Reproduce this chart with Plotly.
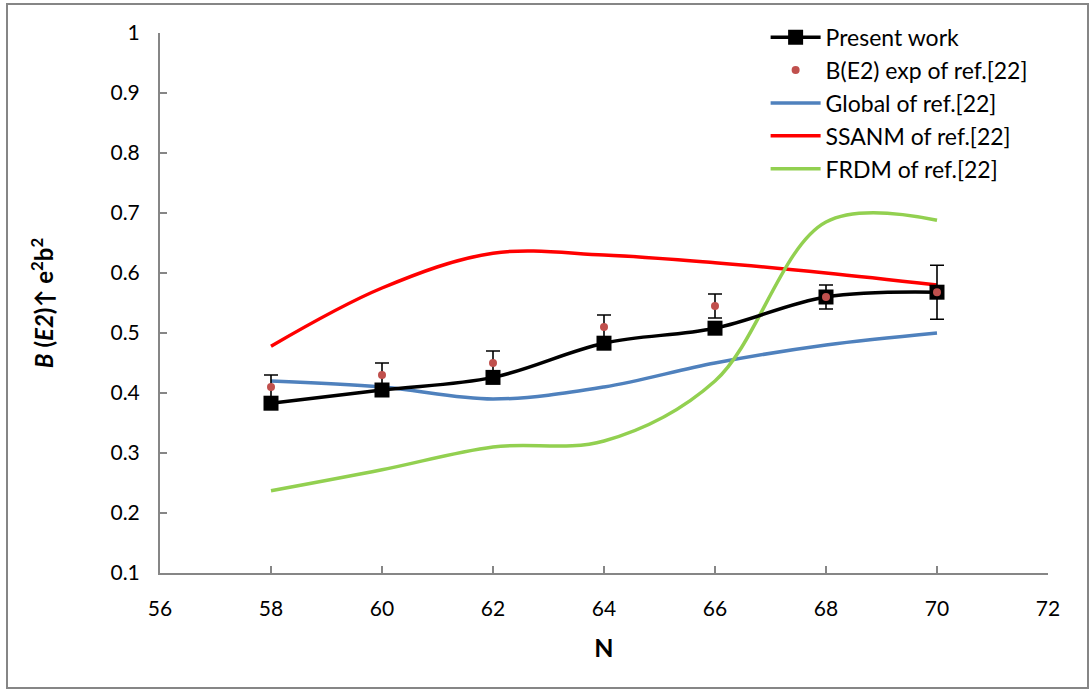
import plotly.graph_objects as go

N = [58, 60, 62, 64, 66, 68, 70]
present_work = [0.383, 0.405, 0.426, 0.483, 0.508, 0.560, 0.568]
be2_exp = [0.41, 0.43, 0.45, 0.51, 0.545, 0.56, 0.568]
be2_exp_err = [0.02, 0.02, 0.02, 0.02, 0.02, 0.02, 0.045]
global_ref = [0.42, 0.41, 0.39, 0.41, 0.45, 0.48, 0.50]
ssanm_ref = [0.478, 0.575, 0.633, 0.630, 0.617, 0.600, 0.580]
frdm_ref = [0.237, 0.272, 0.310, 0.320, 0.420, 0.685, 0.688]

x_ticks = [56, 58, 60, 62, 64, 66, 68, 70, 72]
y_ticks = [0.1, 0.2, 0.3, 0.4, 0.5, 0.6, 0.7, 0.8, 0.9, 1]
y_tick_labels = ["0.1", "0.2", "0.3", "0.4", "0.5", "0.6", "0.7", "0.8", "0.9", "1"]

FONT = "Lato, 'Open Sans', sans-serif"

fig = go.Figure()

fig.add_trace(go.Scatter(
    x=N, y=global_ref, name="Global of ref.[22]", mode="lines", legendrank=3,
    line=dict(color="#4F81BD", width=3.5, shape="spline", smoothing=1),
))
fig.add_trace(go.Scatter(
    x=N, y=ssanm_ref, name="SSANM of ref.[22]", mode="lines", legendrank=4,
    line=dict(color="#FF0000", width=3.5, shape="spline", smoothing=1),
))
fig.add_trace(go.Scatter(
    x=N, y=frdm_ref, name="FRDM of ref.[22]", mode="lines", legendrank=5,
    line=dict(color="#92D050", width=3.5, shape="spline", smoothing=1),
))
fig.add_trace(go.Scatter(
    x=N, y=present_work, name="Present work", mode="lines+markers", legendrank=1,
    line=dict(color="black", width=3.5, shape="spline", smoothing=1),
    marker=dict(symbol="square", size=15, color="black"),
))
fig.add_trace(go.Scatter(
    x=N, y=be2_exp, name="B(E2) exp of ref.[22]", mode="markers", legendrank=2,
    marker=dict(symbol="circle", size=8, color="#C0504D"),
    error_y=dict(type="data", array=be2_exp_err, visible=True,
                 color="black", thickness=1.6, width=7),
))

fig.update_layout(
    width=1090, height=690,
    margin=dict(l=160, r=42, t=33, b=117),
    paper_bgcolor="white", plot_bgcolor="white",
    font=dict(family=FONT, size=21, color="black"),
    showlegend=True,
    legend=dict(
        x=0.682, y=1.032, xanchor="left", yanchor="top",
        bgcolor="rgba(0,0,0,0)", font=dict(size=23, family=FONT),
        tracegroupgap=0, itemwidth=50,
    ),
    xaxis=dict(
        range=[56, 72], tickvals=x_ticks, ticktext=[str(v) for v in x_ticks],
        showgrid=False, zeroline=False, showline=True,
        linecolor="#868686", linewidth=2, ticks="inside", ticklen=7,
        tickcolor="#868686", tickwidth=1.5, ticklabelstandoff=16,
        title=dict(text="<b>N</b>", font=dict(size=25, family=FONT), standoff=20),
    ),
    yaxis=dict(
        range=[0.1, 1.0], tickvals=y_ticks, ticktext=y_tick_labels,
        showgrid=False, zeroline=False, showline=True,
        linecolor="#868686", linewidth=2, ticks="inside", ticklen=7,
        tickcolor="#868686", tickwidth=1.5, ticklabelstandoff=14,
        title=dict(text="<b><i>B</i> (<i>E2</i>)↑ e<sup>2</sup>b<sup>2</sup></b>",
                   font=dict(size=24, family=FONT), standoff=50),
    ),
    shapes=[dict(
        type="rect", xref="paper", yref="paper",
        x0=(7 - 160) / 888, x1=(1088 - 160) / 888,
        y0=(573 - 688) / 540, y1=(573 - 4) / 540,
        line=dict(color="#868686", width=2), fillcolor="rgba(0,0,0,0)",
        layer="below",
    )],
)

fig.write_html("out.html")
